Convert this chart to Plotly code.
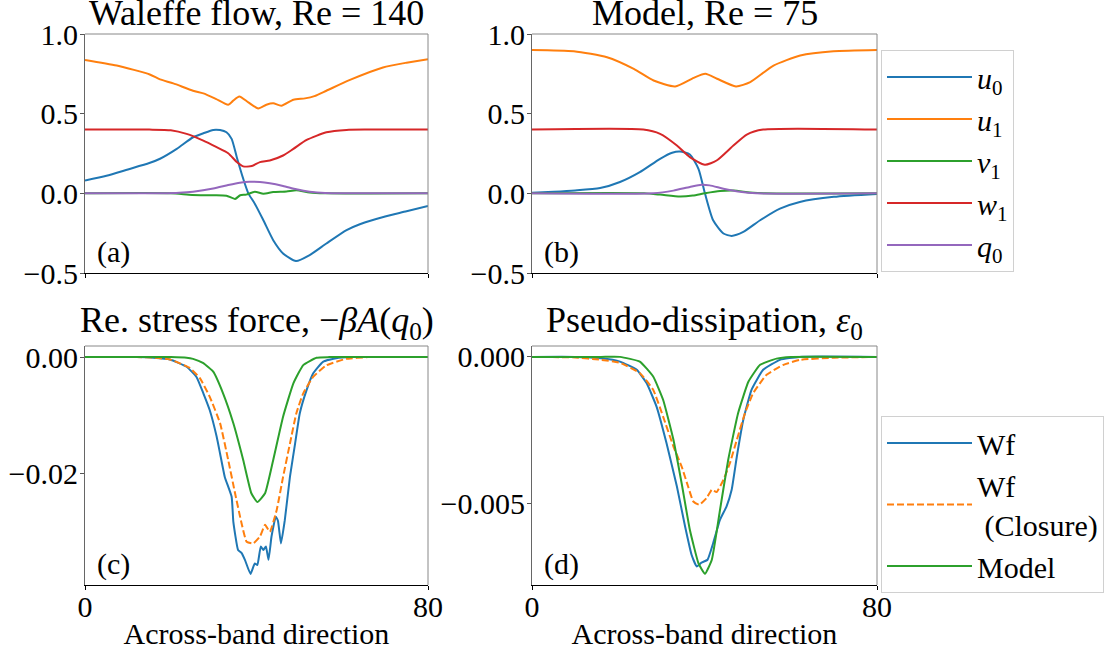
import plotly.graph_objects as go

# ---------------- data ----------------
# Panel (a): Waleffe flow, Re = 140
xa_u0 = [0, 5, 10, 15, 17.5, 21.4, 25.2, 27.6, 29.9, 31.5, 33.0, 34.2, 35.4, 36.9, 38.1, 39.6, 41.6, 43.9, 46.2, 49.2, 52.4, 56.3, 61.0, 64.1, 70, 75, 80]
ya_u0 = [0.08, 0.11, 0.15, 0.19, 0.217, 0.279, 0.352, 0.377, 0.398, 0.397, 0.383, 0.342, 0.227, 0.092, 0.0, -0.065, -0.169, -0.294, -0.377, -0.425, -0.3875, -0.315, -0.231, -0.194, -0.145, -0.113, -0.079]
xa_u1 = [0, 7.4, 15.1, 17.5, 20.6, 25.2, 27.6, 30.5, 33.4, 34.5, 36.0, 38.1, 40.4, 42.3, 43.9, 45.8, 48.6, 51.3, 53.5, 56.3, 61.8, 69.5, 75, 80]
ya_u1 = [0.8375, 0.802, 0.746, 0.715, 0.69, 0.644, 0.627, 0.593, 0.556, 0.58, 0.608, 0.571, 0.533, 0.556, 0.565, 0.55, 0.5875, 0.596, 0.61, 0.644, 0.712, 0.79, 0.82, 0.842]
xa_v1 = [0, 20, 25, 30, 33, 35, 36.2, 37.6, 39.6, 41.6, 43.9, 47, 49.3, 52.4, 56, 80]
ya_v1 = [0, 0, -0.01, -0.012, -0.015, -0.035, -0.012, -0.008, 0.01, -0.002, 0.008, 0.012, 0.02, 0.005, 0, 0]
xa_w1 = [0, 15, 20, 23.7, 27.6, 30.7, 33.4, 35.4, 36.9, 38.9, 40.8, 43.1, 46.2, 48.6, 51.7, 56.3, 61, 66, 80]
ya_w1 = [0.4, 0.4, 0.396, 0.373, 0.331, 0.29, 0.252, 0.196, 0.169, 0.171, 0.196, 0.206, 0.2375, 0.279, 0.335, 0.383, 0.398, 0.4, 0.4]
xa_q0 = [0, 18, 22, 25.2, 29.9, 33.4, 36.1, 38.4, 40.8, 43.1, 46.2, 49.3, 52.4, 56, 80]
ya_q0 = [0, 0, 0.003, 0.01, 0.03, 0.052, 0.067, 0.073, 0.071, 0.063, 0.046, 0.025, 0.01, 0.002, 0]

# Panel (b): Model, Re = 75
xb_u0 = [0, 5, 10, 15.8, 20.4, 25, 29.7, 32.5, 34.3, 36.6, 38.6, 40.1, 42.0, 44.4, 46.3, 49.0, 52.9, 57.5, 62.1, 70, 80]
yb_u0 = [0.004, 0.01, 0.018, 0.033, 0.071, 0.133, 0.217, 0.255, 0.2625, 0.244, 0.154, 0.0, -0.169, -0.252, -0.267, -0.242, -0.169, -0.096, -0.054, -0.022, -0.004]
xb_u1 = [0, 9.7, 17.4, 23.6, 28.2, 33.2, 37.5, 40.2, 42.9, 47.3, 50.6, 56, 62.2, 69.9, 80]
yb_u1 = [0.9, 0.892, 0.854, 0.781, 0.708, 0.671, 0.725, 0.75, 0.719, 0.671, 0.698, 0.802, 0.865, 0.892, 0.9]
xb_v1 = [0, 26, 29.7, 34.3, 37.3, 40.1, 43.6, 46.7, 50.5, 54, 80]
yb_v1 = [0, 0, -0.008, -0.02, -0.014, 0, 0.014, 0.017, 0.006, 0, 0]
xb_w1 = [0, 25.8, 29.7, 33.6, 36.6, 40.1, 42.8, 46.7, 49.8, 53.6, 80]
yb_w1 = [0.4, 0.4, 0.373, 0.3, 0.227, 0.179, 0.206, 0.3, 0.369, 0.4, 0.4]
xb_q0 = [0, 28.2, 32.8, 36.6, 39.3, 41.2, 44.4, 48.2, 52, 80]
yb_q0 = [0, 0, 0.017, 0.04, 0.054, 0.05, 0.029, 0.01, 0, 0]

# Panel (c): Re. stress force
xc_wf = [0, 12, 16, 19.8, 23.7, 26.0, 27.6, 29.1, 30.7, 31.5, 32.6, 34.2, 34.6, 35.7, 36.5, 37.3, 38.6, 39.6, 40.2, 41.0, 41.6, 42.2, 42.8, 43.5, 44.5, 45.0, 45.7, 46.6, 47.8, 49.0, 50.1, 51.7, 53.2, 55.5, 58.6, 62, 80]
yc_wf = [0, 0, -0.0001, -0.0004, -0.00165, -0.0034, -0.0062, -0.0091, -0.0136, -0.0165, -0.0205, -0.0239, -0.0282, -0.033, -0.0335, -0.0347, -0.0371, -0.0353, -0.0356, -0.0324, -0.033, -0.0324, -0.0347, -0.0307, -0.0273, -0.028, -0.0319, -0.0279, -0.0205, -0.0148, -0.0096, -0.0056, -0.0028, -0.0008, -0.0002, 0, 0]
xc_cl = [0, 12, 16, 19.8, 24.5, 26.8, 29.1, 31.5, 33.4, 35.0, 36.5, 37.7, 39.2, 40.8, 42.0, 43.1, 44.7, 46.2, 47.8, 49.3, 50.9, 53.2, 56.3, 60.9, 66, 80]
yc_cl = [0, 0, -0.0001, -0.0004, -0.0019, -0.0036, -0.0068, -0.0113, -0.0176, -0.0233, -0.0284, -0.0316, -0.0319, -0.0307, -0.0287, -0.0299, -0.0262, -0.0205, -0.0148, -0.0096, -0.0062, -0.0034, -0.0014, -0.0003, 0, 0]
xc_md = [0, 20, 23.7, 25.2, 27.5, 29.9, 32.2, 34.6, 36.9, 38.8, 40.2, 42.0, 43.9, 46.2, 48.6, 50.9, 54.0, 57, 80]
yc_md = [0, 0, -0.0001, -0.0003, -0.001, -0.0025, -0.0062, -0.01133, -0.0176, -0.0233, -0.0248, -0.0233, -0.0176, -0.0102, -0.0045, -0.00137, -0.0001, 0, 0]

# Panel (d): Pseudo-dissipation
xd_wf = [0, 10, 16, 20.4, 24.3, 26.6, 28.9, 31.2, 33.6, 35.5, 37.0, 38.2, 39.3, 40.7, 42.0, 43.6, 45.1, 46.3, 47.5, 49.0, 50.9, 53.6, 57.5, 62, 80]
yd_wf = [0, 0, -0.00005, -0.00016, -0.00044, -0.0009, -0.0017, -0.00294, -0.00441, -0.00577, -0.00673, -0.00713, -0.0070, -0.0069, -0.00634, -0.00554, -0.00509, -0.00452, -0.00339, -0.00214, -0.00112, -0.00044, -0.0001, 0, 0]
xd_cl = [0, 10, 16, 20.4, 25, 28.1, 30.4, 32.8, 34.7, 36.2, 37.4, 38.8, 40.5, 41.7, 42.8, 44.4, 45.9, 47.5, 49.4, 51.3, 54.4, 58.3, 62.2, 70, 80]
yd_cl = [0, -0.00002, -0.0001, -0.0002, -0.00055, -0.00112, -0.00203, -0.00305, -0.00373, -0.00441, -0.00492, -0.00503, -0.0048, -0.00452, -0.0046, -0.00418, -0.00361, -0.00282, -0.00191, -0.00123, -0.00061, -0.00027, -0.0001, -0.00003, 0]
xd_md = [0, 16, 20.4, 25, 28.1, 30.4, 32.8, 34.7, 36.6, 38.6, 40.1, 41.7, 43.6, 45.5, 47.8, 50.2, 52.9, 56.7, 60, 80]
yd_md = [0, 0, 0, -0.00016, -0.00067, -0.00146, -0.00282, -0.0043, -0.00588, -0.00702, -0.00738, -0.0069, -0.0052, -0.0035, -0.00191, -0.00084, -0.00027, -0.00006, 0, 0]

field_names = ["<i>u</i><sub>0</sub>", "<i>u</i><sub>1</sub>", "<i>v</i><sub>1</sub>",
               "<i>w</i><sub>1</sub>", "<i>q</i><sub>0</sub>"]
comp_names = ["Wf", "Wf<br> (Closure)", "Model"]
titles = ["Waleffe flow, Re = 140", "Model, Re = 75",
          "Re. stress force, \u2212<i>\u03b2A</i>(<i>q</i><sub>0</sub>)",
          "Pseudo-dissipation, <i>\u03b5</i><sub>0</sub>"]
panel_labels = ["(a)", "(b)", "(c)", "(d)"]
x_ticks = [0, 80]
xlabel = "Across-band direction"

# ---------------- styling ----------------
FONT = "Liberation Serif"
C = ["#1f77b4", "#ff7f0e", "#2ca02c", "#d62728", "#9467bd"]
W, H = 1107, 653
LW = 2

fig = go.Figure()

top_a = [(xa_u0, ya_u0), (xa_u1, ya_u1), (xa_v1, ya_v1), (xa_w1, ya_w1), (xa_q0, ya_q0)]
top_b = [(xb_u0, yb_u0), (xb_u1, yb_u1), (xb_v1, yb_v1), (xb_w1, yb_w1), (xb_q0, yb_q0)]
for i, (xs, ys) in enumerate(top_a):
    fig.add_trace(go.Scatter(x=xs, y=ys, mode="lines", name=field_names[i],
                             line=dict(color=C[i], width=LW, shape="spline", smoothing=0.6),
                             xaxis="x", yaxis="y", legend="legend", legendgroup=f"g{i}"))
for i, (xs, ys) in enumerate(top_b):
    fig.add_trace(go.Scatter(x=xs, y=ys, mode="lines", name=field_names[i], showlegend=False,
                             line=dict(color=C[i], width=LW, shape="spline", smoothing=0.6),
                             xaxis="x2", yaxis="y2"))

bot_c = [(xc_wf, yc_wf), (xc_cl, yc_cl), (xc_md, yc_md)]
bot_d = [(xd_wf, yd_wf), (xd_cl, yd_cl), (xd_md, yd_md)]
comp_col = [C[0], C[1], C[2]]
comp_dash = ["solid", "7px,3px", "solid"]
for i, (xs, ys) in enumerate(bot_c):
    fig.add_trace(go.Scatter(x=xs, y=ys, mode="lines", name=comp_names[i],
                             line=dict(color=comp_col[i], width=LW, dash=comp_dash[i],
                                       shape="spline", smoothing=0.4),
                             xaxis="x3", yaxis="y3", legend="legend2", legendgroup=f"h{i}"))
for i, (xs, ys) in enumerate(bot_d):
    fig.add_trace(go.Scatter(x=xs, y=ys, mode="lines", name=comp_names[i], showlegend=False,
                             line=dict(color=comp_col[i], width=LW, dash=comp_dash[i],
                                       shape="spline", smoothing=0.4),
                             xaxis="x4", yaxis="y4"))

# domains in pixels -> paper
def dx(a, b):
    return [a / W, b / W]

def dy(top, bot):
    return [1 - bot / H, 1 - top / H]

xdom = [dx(85, 428), dx(532, 877), dx(85, 428), dx(532, 877)]
ydom = [dy(34, 273), dy(34, 273), dy(346, 585), dy(346, 585)]
yranges = [[-0.5, 1.0], [-0.5, 1.0], [-0.0390, 0.0019], [-0.00776, 0.00037]]
ytickvals = [[-0.5, 0, 0.5, 1.0], [-0.5, 0, 0.5, 1.0], [-0.02, 0], [-0.005, 0]]
ytickfmt = [".1f", ".1f", ".2f", ".3f"]

tickfont = dict(family=FONT, size=30, color="black")
layout = dict(
    width=W, height=H,
    margin=dict(l=0, r=0, t=0, b=0),
    paper_bgcolor="white", plot_bgcolor="white",
    font=dict(family=FONT, size=30, color="black"),
    showlegend=True,
)
shapes = []
annotations = []
for k in range(4):
    sfx = "" if k == 0 else str(k + 1)
    bottom = k >= 2
    layout["xaxis" + sfx] = dict(
        domain=xdom[k], range=[0, 80], anchor="y" + sfx,
        tickvals=x_ticks, showticklabels=bottom, ticks="outside", ticklen=4,
        tickcolor="black", tickfont=tickfont, showgrid=False, zeroline=False,
        showline=True, linecolor="black", linewidth=1.3, ticklabelstandoff=-9,
        title=dict(text=xlabel if bottom else "", font=dict(family=FONT, size=30), standoff=0),
        automargin=False,
    )
    layout["yaxis" + sfx] = dict(
        domain=ydom[k], range=yranges[k], anchor="x" + sfx,
        tickvals=ytickvals[k], tickformat=ytickfmt[k], ticks="outside", ticklen=4,
        tickcolor="#555", tickfont=tickfont, showgrid=False, zeroline=False,
        showline=True, linecolor="#666", linewidth=1, automargin=False,
        ticklabelstandoff=-4,
    )
    xr = "x" + sfx + " domain"
    yr = "y" + sfx + " domain"
    shapes.append(dict(type="line", xref=xr, yref=yr, x0=0, x1=1, y0=1, y1=1,
                       line=dict(color="#888", width=1), layer="above"))
    shapes.append(dict(type="line", xref=xr, yref=yr, x0=1, x1=1, y0=0, y1=1,
                       line=dict(color="#888", width=1), layer="above"))
    annotations.append(dict(text=titles[k], xref=xr, yref=yr, x=0.5, y=1,
                            xanchor="center", yanchor="bottom", showarrow=False,
                            font=dict(family=FONT, size=36, color="black"), yshift=-1))
    annotations.append(dict(text=panel_labels[k], xref=xr, yref=yr, x=0.03, y=0.088,
                            xanchor="left", yanchor="middle", showarrow=False,
                            font=dict(family=FONT, size=30, color="black")))

layout["shapes"] = shapes
layout["annotations"] = annotations
layout["legend"] = dict(x=881 / W, y=1 - 50 / H, xanchor="left", yanchor="top",
                        bgcolor="white", bordercolor="#d0d0d0", borderwidth=1,
                        font=dict(family=FONT, size=30), itemwidth=85,
                        tracegroupgap=0, traceorder="normal")
layout["legend2"] = dict(x=881 / W, y=1 - 416 / H, xanchor="left", yanchor="top",
                         bgcolor="white", bordercolor="#d0d0d0", borderwidth=1,
                         font=dict(family=FONT, size=30), itemwidth=85,
                         tracegroupgap=0, traceorder="normal")
fig.update_layout(**layout)

fig.write_html("out.html")
